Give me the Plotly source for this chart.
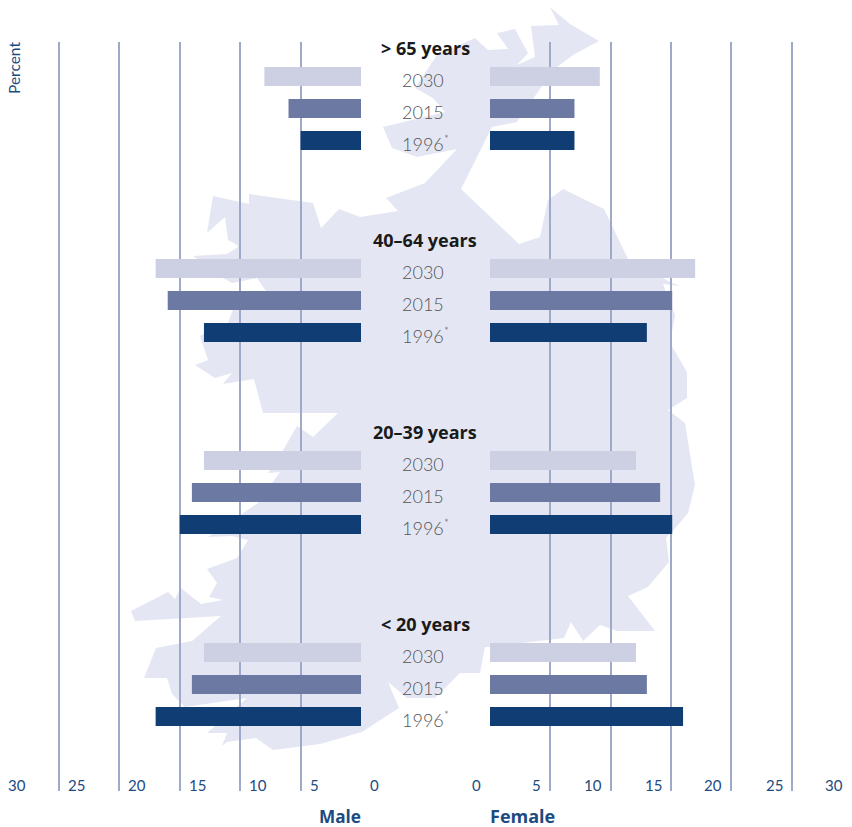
import plotly.graph_objects as go

W, H = 852, 827
ages = ["> 65 years", "40–64 years", "20–39 years", "< 20 years"]
years = ["2030", "2015", "1996"]
year_labels = {"2030": "2030", "2015": "2015", "1996": "1996<sup>*</sup>"}
male = {
    "2030": [8, 17, 13, 13],
    "2015": [6, 16, 14, 14],
    "1996": [5, 13, 15, 17],
}
female = {
    "2030": [9.1, 17, 12.1, 12.1],
    "2015": [7, 15.1, 14.1, 13],
    "1996": [7, 13, 15.1, 16],
}
tick_vals = [0, 5, 10, 15, 20, 25, 30]
colors = {"2030": "#cdd0e3", "2015": "#6c79a3", "1996": "#103e74"}

# decorative map silhouette, in page pixels
map_outline = [
    (550,7),(570,24),(599,41),(573,55),(553,70),(517,122),(492,127),(461,189),(519,244),(540,237),
    (548,200),(563,189),(604,209),(628,259),(672,283),(680,286),(663,284),(675,315),(670,343),
    (687,372),(687,398),(668,410),(685,423),(695,485),(688,513),(672,532),(666,538),(669,562),
    (648,587),(628,596),(655,631),(617,631),(600,625),(583,641),(571,622),(564,638),(490,647),
    (485,647),(480,673),(460,673),(435,698),(407,698),(388,682),(399,708),(362,732),(320,744),
    (273,750),(256,738),(227,742),(222,746),(227,733),(207,733),(247,698),(185,707),(172,694),
    (167,678),(144,678),(156,648),(192,641),(221,616),(135,621),(131,611),(168,592),(175,599),
    (181,588),(201,604),(223,600),(209,597),(217,583),(207,569),(237,558),(248,540),(232,536),
    (208,537),(258,503),(280,472),(268,473),(282,452),(297,426),(313,437),(338,413),(263,413),
    (254,379),(223,384),(232,373),(215,378),(195,365),(208,360),(200,336),(228,323),(233,309),
    (266,291),(257,278),(232,283),(223,278),(193,256),(227,254),(238,247),(237,245),(228,240),
    (225,217),(207,233),(213,196),(249,204),(249,194),(313,203),(321,228),(339,209),(360,217),
    (398,211),(386,198),(425,183),(457,149),(417,157),(392,148),(383,127),(445,112),(433,98),
    (415,88),(437,55),(475,38),(488,50),(508,49),(497,33),(515,29),(528,53),(517,65),(535,57),
    (531,26),(559,25),
]
map_path = "M" + " L".join(f"{x/W:.4f},{1-y/H:.4f}" for x, y in map_outline) + " Z"

rows = []
for a in ages:
    rows += [f"{a}|head", f"{a}|2030", f"{a}|2015", f"{a}|1996", f"{a}|gap1", f"{a}|gap2"]

TOP, BOT = 41.5, 790.5
ROW0 = 44.5
fig = go.Figure()
for yr in years:
    ys = [f"{a}|{yr}" for a in ages]
    fig.add_bar(x=male[yr], y=ys, orientation="h", marker=dict(color=colors[yr], line_width=0),
                width=0.6, xaxis="x", yaxis="y", name=f"Male {yr}", showlegend=False)
    fig.add_bar(x=female[yr], y=ys, orientation="h", marker=dict(color=colors[yr], line_width=0),
                width=0.6, xaxis="x2", yaxis="y", name=f"Female {yr}", showlegend=False)

FONT = "Open Sans, Noto Sans, sans-serif"
BLUE = "#1d4b80"
ann = []
for a in ages:
    ann.append(dict(x=425/W, xref="paper", xanchor="center", y=f"{a}|head", yref="y", yanchor="middle",
                    yshift=-3.5, text=f"<b>{a}</b>", showarrow=False,
                    font=dict(family=FONT, size=18, color="#1a1a1a")))
    for yr in years:
        ann.append(dict(x=(425 if yr == "1996" else 423)/W, xref="paper", xanchor="center", y=f"{a}|{yr}", yref="y",
                        yanchor="middle", text=year_labels[yr], showarrow=False, yshift=-2.5 if yr == "1996" else -3.5,
                        font=dict(family="Lato Light, Lato, sans-serif", size=18, color="#555555")))
for v in tick_vals:
    if v == 30:
        ann.append(dict(x=6/W, xref="paper", xanchor="left", y=1-784.5/H, yref="paper", yanchor="middle",
                        text=str(v), showarrow=False, font=dict(family="Lato, sans-serif", size=15, color=BLUE)))
    else:
        ann.append(dict(x=v, xref="x", xanchor="left", y=1-784.5/H, yref="paper", yanchor="middle", text=str(v),
                        showarrow=False, xshift=7, font=dict(family="Lato, sans-serif", size=15, color=BLUE)))
    ann.append(dict(x=v, xref="x2", xanchor="right", y=1-784.5/H, yref="paper", yanchor="middle", text=str(v),
                    showarrow=False, xshift=-7, font=dict(family="Lato, sans-serif", size=15, color=BLUE)))
ann.append(dict(x=13.5/W, xref="paper", xanchor="center", y=1-68.5/H, yref="paper", yanchor="middle", text="Percent",
                textangle=-90, showarrow=False, font=dict(family="Lato, sans-serif", size=15.5, color=BLUE)))
ann.append(dict(x=363/W, xref="paper", xanchor="right", y=1-816/H, yref="paper", yanchor="middle", text="<b>Male</b>",
                showarrow=False, font=dict(family=FONT, size=17.2, color=BLUE)))
ann.append(dict(x=488/W, xref="paper", xanchor="left", y=1-816/H, yref="paper", yanchor="middle", text="<b>Female</b>",
                showarrow=False, font=dict(family=FONT, size=18, color=BLUE)))

grid = dict(showgrid=True, gridcolor="#9fa9c9", gridwidth=2, tick0=0, dtick=5, zeroline=False,
            showticklabels=False, ticks="", showline=False, anchor="y")
fig.update_layout(
    width=W, height=H, autosize=False, margin=dict(l=0, r=0, t=0, b=0),
    paper_bgcolor="white", plot_bgcolor="rgba(0,0,0,0)", barmode="overlay", showlegend=False,
    xaxis=dict(domain=[0, 361/W], range=[361/12.08, 0], **grid),
    xaxis2=dict(domain=[490/W, 1], range=[0, 30], **grid),
    yaxis=dict(domain=[1-BOT/H, 1-TOP/H], type="category", categoryorder="array", categoryarray=rows,
               range=[(BOT-ROW0)/32, (TOP-ROW0)/32], showgrid=False, showticklabels=False, ticks="",
               zeroline=False, showline=False),
    shapes=[dict(type="path", xref="paper", yref="paper", path=map_path, fillcolor="#e4e7f3",
                 line_width=0, layer="below")],
    annotations=ann,
)
fig.write_html("out.html", post_script="document.body.style.margin='0';document.body.style.overflow='hidden';",
               config={"displayModeBar": False})
